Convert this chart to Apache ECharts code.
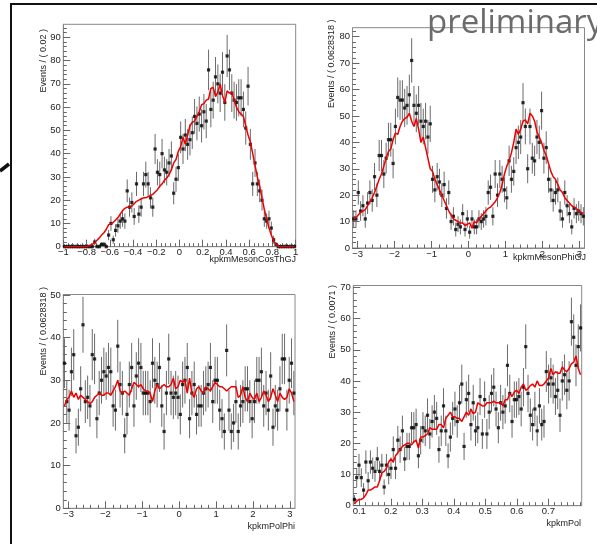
<!DOCTYPE html>
<html>
<head>
<meta charset="utf-8">
<script src="https://cdn.jsdelivr.net/npm/echarts@6/dist/echarts.min.js"></script>
<style>
html, body { margin: 0; padding: 0; background: #fff; }
#main { width: 597px; height: 544px; }
</style>
</head>
<body>
<div id="main"></div>
<script>
var cosThCounts = [
  0, 0, 0, 0, 0, 0, 0, 0, 0, 0,
  0, 0, 0, 2, 0, 0, 1, 1, 0, 5,
  10, 3, 7, 9, 11, 12, 11, 24, 17, 19,
  13, 27, 14, 17, 27, 31, 27, 21, 17, 42,
  32, 31, 40, 33, 32, 36, 39, 23, 29, 34,
  47, 42, 48, 44, 46, 49, 56, 53, 57, 52,
  58, 54, 76, 59, 63, 73, 70, 66, 75, 62,
  82, 76, 66, 63, 62, 64, 64, 59, 51, 69,
  44, 27, 36, 27, 24, 20, 12, 11, 12, 8,
  3, 1, 0, 0, 0, 0, 0, 0, 0, 0
];
var cosThFit = [
  0, 0, 0, 0, 0, 0, 0, 0, 0, 0,
  0.2, 0.5, 1, 1.8, 2.8, 3.8, 5, 6, 7.5, 9.5,
  9.8, 10.5, 11.5, 12.5, 14, 15.5, 16.5, 17, 17, 17.5,
  18.5, 19.5, 20, 20.5, 21, 21, 21.5, 22, 22.5, 23.5,
  24.5, 26, 27, 28.5, 29.5, 31, 33, 36, 37.5, 41,
  43, 47, 44, 48, 52, 53.5, 54, 56, 58, 61,
  61.5, 63, 63.5, 68, 68.5, 64.5, 66.5, 70, 65, 62,
  67, 66, 66.5, 63, 60, 58, 57, 56, 52, 48,
  45, 40, 35, 30, 26, 21, 16, 12, 8, 5,
  2.5, 1, 0.2, 0, 0, 0, 0, 0, 0, 0
];
var phiGJCounts = [
  11, 11, 21, 14, 16, 11, 17, 21, 18, 27,
  20, 35, 35, 28, 34, 41, 41, 32, 46, 57,
  56, 56, 53, 54, 58, 71, 54, 51, 54, 48,
  46, 48, 42, 47, 26, 22, 27, 25, 20, 24,
  15, 21, 10, 12, 7, 9, 8, 13, 7, 11,
  6, 11, 8, 8, 11, 10, 11, 12, 21, 23,
  12, 28, 20, 28, 26, 22, 19, 33, 26, 29,
  38, 40, 42, 55, 46, 30, 46, 34, 33, 42,
  40, 52, 34, 38, 26, 22, 18, 21, 22, 14,
  11, 21, 16, 13, 8, 15, 13, 14, 13, 12
];
var phiGJFit = [
  11, 11.5, 12.5, 13.5, 14, 14.5, 16, 17.5, 19, 21,
  23.5, 26, 28, 31, 34, 36.5, 37.5, 41, 43.5, 43,
  46, 48, 49, 49.5, 51, 48, 46, 49, 45, 40,
  42, 38, 34, 30, 29, 26, 24, 22, 20, 18,
  16, 14, 12.5, 11, 10.5, 10, 9.5, 9.5, 8.5, 9,
  9.5, 7.5, 10, 9.5, 11, 12, 13, 14, 15, 15.5,
  16.5, 17.5, 19, 21, 24, 28, 31, 33, 36, 40,
  45, 43, 45, 48, 48.5, 47, 51, 50, 48, 44,
  42, 40, 37, 35, 32, 29, 27, 26, 24, 22,
  21, 19, 18, 17, 16, 15.5, 15, 14, 13.5, 13
];
var polPhiCounts = [
  34, 25, 23, 32, 36, 17, 19, 28, 43, 25,
  26, 24, 36, 35, 21, 27, 30, 32, 31, 33,
  32, 24, 23, 38, 29, 27, 17, 22, 29, 33,
  24, 31, 34, 33, 27, 27, 27, 25, 34, 30,
  29, 33, 24, 18, 27, 35, 27, 26, 27, 26,
  22, 29, 30, 33, 21, 27, 29, 22, 24, 24,
  27, 28, 29, 33, 25, 30, 30, 23, 21, 18,
  37, 23, 18, 20, 25, 18, 24, 25, 28, 28,
  25, 21, 25, 30, 30, 32, 24, 27, 23, 31,
  19, 24, 23, 28, 35, 35, 23, 30, 34, 27
];
var polPhiFit = [
  24, 25.5, 26, 27.5, 26, 27, 25.5, 26.5, 26, 25.5,
  25, 24.5, 25, 26, 26.5, 27, 26.5, 26.5, 27, 27,
  26.5, 27.5, 28.5, 30, 27.5, 27, 27.5, 27, 26.5, 28,
  29.5, 29, 28.5, 29, 28, 27.5, 27.5, 27, 25, 27.5,
  29, 28, 28.5, 29, 28.5, 28.5, 29, 30.5, 28, 28.5,
  30, 29.5, 30, 27, 30.5, 27, 26, 28, 28.5, 27.5,
  27, 28.5, 28, 27.5, 28.5, 29.5, 29, 28.5, 28.5, 28,
  27.5, 28, 28.5, 28.5, 28.5, 26, 26.5, 28.5, 26, 25,
  27, 26, 25.5, 27, 25, 26, 27.5, 26.5, 25, 26,
  28, 26.5, 25, 27, 26, 25.5, 26, 28, 27, 25
];
var polCounts = [
  2, 9, 13, 9, 5, 14, 8, 14, 12, 11,
  15, 11, 13, 6, 13, 10, 12, 18, 12, 21,
  18, 24, 15, 19, 19, 25, 25, 26, 16, 21,
  25, 24, 29, 23, 27, 30, 28, 18, 24, 32,
  24, 16, 22, 28, 31, 27, 33, 39, 19, 34,
  36, 26, 33, 24, 25, 35, 23, 34, 23, 30,
  36, 38, 31, 25, 33, 30, 32, 45, 36, 27,
  34, 34, 35, 31, 38, 51, 36, 29, 26, 31,
  24, 32, 26, 27, 43, 39, 41, 39, 35, 37,
  29, 40, 42, 37, 40, 59, 54, 45, 51, 57
];
var polFit = [
  0.5, 1.5, 2, 2, 2.5, 3.5, 5, 5, 5.5, 6,
  6, 8, 10.5, 11, 12, 14, 15, 14, 16, 17,
  18, 19, 19.5, 20, 20, 19.5, 20.5, 21, 18.5, 22,
  22, 22.5, 23, 25, 24.5, 24.5, 24.5, 26, 26, 25,
  28, 29, 30, 28.5, 28.5, 28, 28, 27, 28.5, 30,
  29, 31, 29.5, 30, 33, 32.5, 32, 32, 33, 33,
  33, 33.5, 33, 33, 33, 32, 34, 34, 36, 35,
  36.5, 37, 36, 38, 39, 37, 37.5, 38.5, 39, 38,
  40, 38.5, 38.5, 39, 40, 41, 44, 42, 43, 42.5,
  42.5, 44.5, 43.5, 43, 44, 45.5, 46, 48, 44, 42
];

var cosThTicks = [-1, -0.8, -0.6, -0.4, -0.2, 0, 0.2, 0.4, 0.6, 0.8, 1];
var phiTicks = [-3, -2, -1, 0, 1, 2, 3];
var polTicks = [0.1, 0.2, 0.3, 0.4, 0.5, 0.6, 0.7];
var yTicks90 = [0, 10, 20, 30, 40, 50, 60, 70, 80, 90];
var yTicks80 = [0, 10, 20, 30, 40, 50, 60, 70, 80];
var yTicks50 = [0, 10, 20, 30, 40, 50];
var yTicks70 = [0, 10, 20, 30, 40, 50, 60, 70];

var panels = [
  { counts: cosThCounts, fit: cosThFit, xMin: -1, xMax: 1, yMax: 95.6,
    xTicks: cosThTicks, xMinor: 0.04, yTicks: yTicks90,
    grid: { left: 63.3, top: 24.3, width: 232.4, height: 222.4 },
    xTitle: 'kpkmMesonCosThGJ', xTitlePos: [296, 259.5],
    yTitle: 'Events / ( 0.02 )', yTitlePos: [43.5, 29] },
  { counts: phiGJCounts, fit: phiGJFit, xMin: -Math.PI, xMax: Math.PI, yMax: 83.4,
    xTicks: phiTicks, xMinor: 0.2, yTicks: yTicks80,
    grid: { left: 352.5, top: 27.7, width: 232, height: 220.3 },
    xTitle: 'kpkmMesonPhiGJ', xTitlePos: [586, 258],
    yTitle: 'Events / ( 0.0628318 )', yTitlePos: [331.7, 19.5] },
  { counts: polPhiCounts, fit: polPhiFit, xMin: -Math.PI, xMax: Math.PI, yMax: 50.1,
    xTicks: phiTicks, xMinor: 0.2, yTicks: yTicks50,
    grid: { left: 63.3, top: 294.5, width: 231.7, height: 213.8 },
    xTitle: 'kpkmPolPhi', xTitlePos: [295, 527],
    yTitle: 'Events / ( 0.0628318 )', yTitlePos: [43.5, 287] },
  { counts: polCounts, fit: polFit, xMin: 0.081, xMax: 0.806, yMax: 70.6,
    xTicks: polTicks, xMinor: 0.02, yTicks: yTicks70,
    grid: { left: 353.3, top: 285.5, width: 228.4, height: 220.2 },
    xTitle: 'kpkmPol', xTitlePos: [581, 523.5],
    yTitle: 'Events / ( 0.0071 )', yTitlePos: [332.3, 285] }
];

function stepValues(lo, hi, step) {
  var out = [];
  var start = Math.ceil(lo / step - 1e-9);
  for (var k = start; k * step <= hi + 1e-9; k++) {
    out.push(Math.round(k * step * 1e6) / 1e6);
  }
  return out;
}

function fmt(v) {
  var r = Math.round(v * 100) / 100;
  return (r < 0 ? '\u2212' : '') + String(Math.abs(r));
}

var labelFont = { color: '#222', fontSize: 9.5, fontFamily: '"Liberation Sans", Arial, sans-serif' };
var titleFont = '9px "Liberation Sans", Arial, sans-serif';

var grids = [], xAxes = [], yAxes = [], series = [], graphics = [];

panels.forEach(function (p, k) {
  grids.push({
    left: p.grid.left, top: p.grid.top, width: p.grid.width, height: p.grid.height,
    show: true, borderColor: '#888', borderWidth: 1, backgroundColor: 'transparent',
    containLabel: false, outerBoundsMode: 'none'
  });

  // main x axis with labels and long ticks
  xAxes.push({
    type: 'value', gridIndex: k, min: p.xMin, max: p.xMax, position: 'bottom',
    axisLine: { show: true, onZero: false, lineStyle: { color: '#888', width: 1 } },
    axisTick: { show: true, inside: true, length: 7, customValues: p.xTicks, lineStyle: { color: '#666' } },
    axisLabel: Object.assign({ show: true, margin: 1, customValues: p.xTicks, formatter: fmt }, labelFont),
    splitLine: { show: false }
  });
  // minor x ticks
  xAxes.push({
    type: 'value', gridIndex: k, min: p.xMin, max: p.xMax, position: 'bottom',
    axisLine: { show: false, onZero: false },
    axisTick: { show: true, inside: true, length: 3.5, customValues: stepValues(p.xMin, p.xMax, p.xMinor), lineStyle: { color: '#666' } },
    axisLabel: { show: false },
    splitLine: { show: false }
  });
  var yMinor = stepValues(0, p.yMax, 2);
  yAxes.push({
    type: 'value', gridIndex: k, min: 0, max: p.yMax, position: 'left',
    axisLine: { show: true, onZero: false, lineStyle: { color: '#888', width: 1 } },
    axisTick: { show: true, inside: true, length: 7, customValues: p.yTicks, lineStyle: { color: '#666' } },
    axisLabel: Object.assign({ show: true, margin: 2.5, customValues: p.yTicks, formatter: fmt }, labelFont),
    splitLine: { show: false }
  });
  yAxes.push({
    type: 'value', gridIndex: k, min: 0, max: p.yMax, position: 'left',
    axisLine: { show: false, onZero: false },
    axisTick: { show: true, inside: true, length: 3.5, customValues: yMinor, lineStyle: { color: '#666' } },
    axisLabel: { show: false },
    splitLine: { show: false }
  });

  var n = p.counts.length;
  var w = (p.xMax - p.xMin) / n;
  var pts = [], errs = [], fitPts = [];
  for (var i = 0; i < n; i++) {
    var x = p.xMin + (i + 0.5) * w;
    var c = p.counts[i];
    var e = Math.sqrt(c);
    pts.push([x, c]);
    errs.push([x, c, Math.max(0, c - e), c + (c === 0 ? 1.15 : e)]);
    fitPts.push([x, p.fit[i]]);
  }

  series.push({
    type: 'custom', xAxisIndex: 2 * k, yAxisIndex: 2 * k,
    data: errs, encode: { x: 0, y: [2, 3] },
    renderItem: function (params, api) {
      var a = api.coord([api.value(0), api.value(2)]);
      var b = api.coord([api.value(0), api.value(3)]);
      return { type: 'line', shape: { x1: a[0], y1: a[1], x2: b[0], y2: b[1] },
               style: { stroke: '#6a6a6a', lineWidth: 1 } };
    }
  });
  series.push({
    type: 'scatter', xAxisIndex: 2 * k, yAxisIndex: 2 * k,
    data: pts, symbol: 'rect', symbolSize: 3.2,
    itemStyle: { color: '#000' }
  });
  series.push({
    type: 'line', xAxisIndex: 2 * k, yAxisIndex: 2 * k,
    data: fitPts, showSymbol: false, symbol: 'none',
    lineStyle: { color: '#ee0000', width: 1.5 }
  });

  graphics.push({
    type: 'text', x: p.xTitlePos[0], y: p.xTitlePos[1],
    style: { text: p.xTitle, font: titleFont, fill: '#222', align: 'right', verticalAlign: 'middle' }
  });
  graphics.push({
    type: 'text', x: p.yTitlePos[0], y: p.yTitlePos[1], rotation: Math.PI / 2,
    style: { text: p.yTitle, font: titleFont, fill: '#222', align: 'right', verticalAlign: 'middle' }
  });
});

// page decorations around the canvas
graphics.push({ type: 'line', shape: { x1: 10, y1: 4, x2: 597, y2: 4 }, style: { stroke: '#111', lineWidth: 2 } });
graphics.push({ type: 'line', shape: { x1: 11, y1: 4, x2: 11, y2: 544 }, style: { stroke: '#111', lineWidth: 2 } });
graphics.push({ type: 'line', shape: { x1: 0, y1: 171, x2: 9, y2: 164 }, style: { stroke: '#111', lineWidth: 3.5 } });
graphics.push({
  type: 'text', x: 427, y: 24, z: 100,
  style: { text: 'preliminary', font: '33px "Open Sans", sans-serif', fill: '#6b6b6b', align: 'left', verticalAlign: 'middle' }
});

var myChart = echarts.init(document.getElementById('main'));
var option = {
  animation: false,
  backgroundColor: '#fff',
  grid: grids,
  xAxis: xAxes,
  yAxis: yAxes,
  series: series,
  graphic: graphics
};
myChart.setOption(option);
</script>
</body>
</html>
